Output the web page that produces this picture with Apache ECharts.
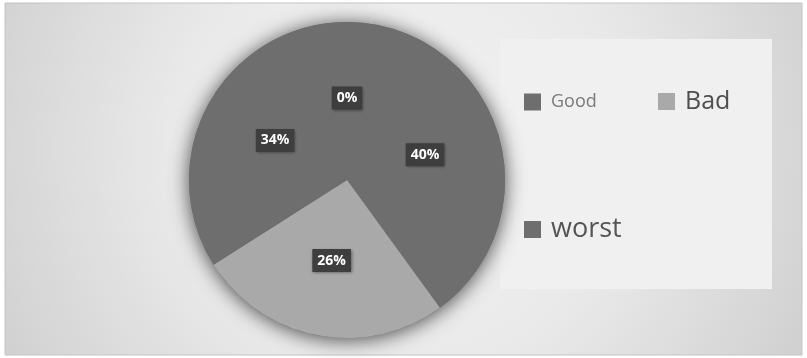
<!DOCTYPE html>
<html>
<head>
<meta charset="utf-8">
<script src="https://cdn.jsdelivr.net/npm/echarts@6/dist/echarts.min.js"></script>
<style>
  html, body { margin: 0; padding: 0; background: #ffffff; }
  #chart { width: 807px; height: 358px; }
</style>
</head>
<body>
<div id="chart"></div>
<script>
// Pie slices in drawing order (clockwise from 12 o'clock)
const categories = ['', 'Good', 'Bad', 'worst'];
const values = [0, 40, 26, 34];
const sliceColors = ['#6e6e6e', '#6e6e6e', '#a9a9a9', '#6e6e6e'];

// Legend entries, each with its own text size and colour
const legendNames = ['Good', 'Bad', 'worst'];
const legendFontSizes = [18, 25, 27];
const legendTextColors = ['#7a7a7a', '#4f4f4f', '#555555'];
const legendLeft = [524, 658, 524];
const legendTop = [93, 89, 216];

const chart = echarts.init(document.getElementById('chart'), null, { renderer: 'canvas' });

const total = values.reduce((a, b) => a + b, 0);
const center = [347, 180];
const radius = 158;

const pieData = categories.map((name, i) => ({
  name: name,
  value: values[i],
  itemStyle: { color: sliceColors[i] }
}));

const legends = legendNames.map((name, i) => ({
  data: [name],
  left: legendLeft[i],
  top: legendTop[i],
  padding: 0,
  icon: 'rect',
  itemWidth: 17,
  itemHeight: 17,
  selectedMode: false,
  textStyle: {
    fontFamily: 'Open Sans',
    fontSize: legendFontSizes[i],
    color: legendTextColors[i],
    padding: [0, 0, 0, 5]
  }
}));

chart.setOption({
  animation: false,
  graphic: [
    {
      type: 'rect',
      z: -10,
      shape: { x: 5, y: 3, width: 797, height: 352 },
      style: {
        fill: {
          type: 'radial', x: 400, y: 150, r: 460, global: true,
          colorStops: [
            { offset: 0, color: '#f4f4f4' },
            { offset: 0.5, color: '#e9e9e9' },
            { offset: 1, color: '#cfcfcf' }
          ]
        },
        stroke: '#c4c4c4',
        lineWidth: 1
      }
    },
    {
      type: 'rect',
      z: -9,
      shape: { x: 500, y: 39, width: 272, height: 250 },
      style: { fill: '#f0f0f0' }
    }
  ],
  legend: legends,
  series: [
    {
      // soft drop shadow beneath the whole pie
      type: 'pie',
      silent: true,
      z: 1,
      center: center,
      radius: radius,
      label: { show: false },
      labelLine: { show: false },
      data: [{ name: 'shadow', value: total }],
      itemStyle: {
        color: '#6e6e6e',
        shadowBlur: 20,
        shadowColor: 'rgba(0,0,0,0.7)',
        shadowOffsetX: 0,
        shadowOffsetY: 2
      }
    },
    {
      type: 'pie',
      z: 2,
      center: center,
      radius: radius,
      startAngle: 90,
      clockwise: true,
      minShowLabelAngle: 0,
      stillShowZeroSum: true,
      avoidLabelOverlap: false,
      data: pieData,
      itemStyle: { borderWidth: 0 },
      label: {
        show: true,
        position: 'inside',
        formatter: p => Math.round(p.percent) + '%',
        color: '#ffffff',
        fontFamily: 'Open Sans',
        fontWeight: 'bold',
        fontSize: 14,
        backgroundColor: '#3e3e3e',
        padding: [5, 5, 4, 5],
        shadowBlur: 3,
        shadowColor: 'rgba(0,0,0,0.45)',
        shadowOffsetX: 1,
        shadowOffsetY: 1
      },
      labelLine: { show: false },
      emphasis: { disabled: true }
    }
  ]
});
</script>
</body>
</html>
